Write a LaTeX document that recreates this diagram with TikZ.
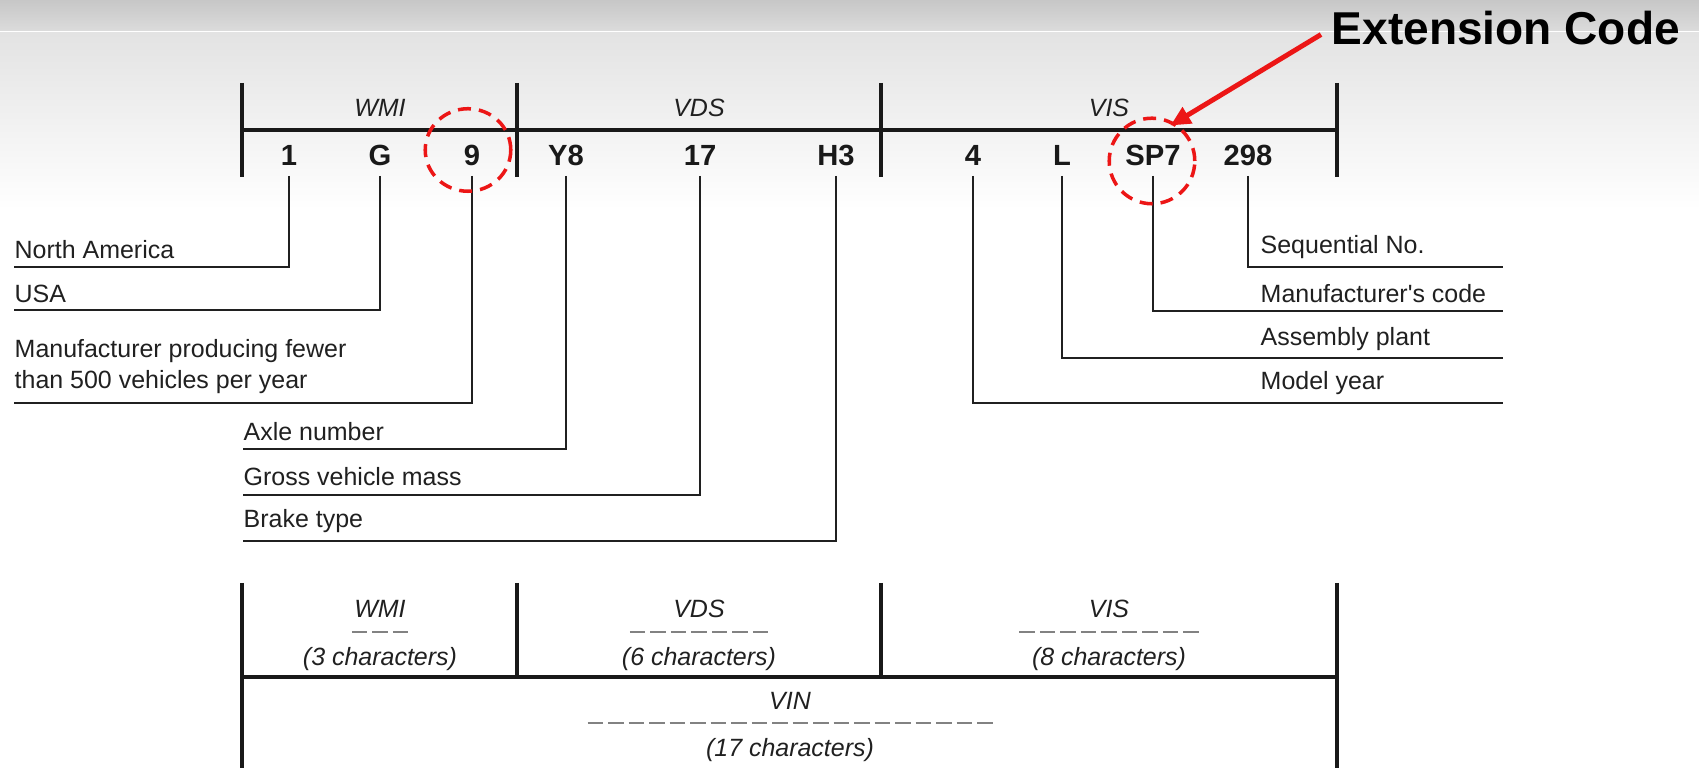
\documentclass[tikz,border=0pt]{standalone}
\usepackage{fontspec}
\setmainfont{Liberation Sans}
\usepackage{tikz}
\usetikzlibrary{arrows.meta,positioning,shapes.geometric}
\definecolor{markred}{RGB}{236,22,22}
\definecolor{inkgray}{RGB}{32,32,32}
\definecolor{dashgray}{RGB}{130,130,130}

\begin{document}
\begin{tikzpicture}[
    x=0.01cm, y=-0.01cm,
    digit/.style={font=\fontsize{8.3pt}{10pt}\selectfont\bfseries, text=black!90, inner sep=0pt, outer ysep=0.1cm, text depth=0pt, anchor=base},
    lbl/.style={font=\fontsize{7.1pt}{8.8pt}\selectfont, text=inkgray, inner sep=0pt, anchor=base west},
    part/.style={font=\fontsize{7.1pt}{8.8pt}\selectfont\itshape, text=inkgray, inner sep=0pt, anchor=base},
    bar/.style={line width=0.95pt, black!90},
    lead/.style={line width=0.65pt, inkgray},
    chardash/.style={line width=0.7pt, dashgray, dash pattern=on 0.155cm off 0.05cm},
    ring/.style={ellipse, draw=markred, line width=1pt, dash pattern=on 0.13cm off 0.08cm, inner sep=0pt},
    callout/.style={-{Triangle[length=0.2cm,width=0.18cm]}, line width=1.4pt, markred},
]
\useasboundingbox (0,0) rectangle (1699,768);
% Background
\shade[top color=black!22, bottom color=black!14] (0,0) rectangle (1699,31);
\fill[white] (0,31) rectangle (1699,33);
\shade[top color=black!11, bottom color=white] (0,33) rectangle (1699,210);

% Upper bar
\draw[bar] (242,130) -- (1337,130);
\foreach \x in {242,517,881,1337}
  \draw[bar] (\x,83) -- (\x,177);
\node[part] (tWMI) at (380,117) {WMI};
\node[part] (tVDS) at (699,117) {VDS};
\node[part] (tVIS) at (1109,117) {VIS};

% Characters
\node[digit] (d1) at (289,166) {1};
\node[digit] (dG) at (380,166) {G};
\node[digit] (d9) at (472,166) {9};
\node[digit] (dY8) at (566,166) {Y8};
\node[digit] (d17) at (700,166) {17};
\node[digit] (dH3) at (836,166) {H3};
\node[digit] (d4) at (973,166) {4};
\node[digit] (dL) at (1062,166) {L};
\node[digit] (dSP7) at (1153,166) {SP7};
\node[digit] (d298) at (1248,166) {298};

% Left labels
\coordinate (naL) at (14,267);
\coordinate (usaL) at (14,310);
\coordinate (mfrL) at (14,403);
\coordinate (axL) at (243,449);
\coordinate (gvmL) at (243,495);
\coordinate (brkL) at (243,541);
\node[lbl] (naT) at (14,259) {North America};
\node[lbl] (usaT) at (14,303) {USA};
\node[lbl, anchor=south west, align=left] (mfrT) at (14,394) {Manufacturer producing fewer\\than 500 vehicles per year};
\node[lbl] (axT) at (243,441) {Axle number};
\node[lbl] (gvmT) at (243,486) {Gross vehicle mass};
\node[lbl] (brkT) at (243,528) {Brake type};

% Right labels
\coordinate (seqR) at (1503,267);
\coordinate (mcR) at (1503,311);
\coordinate (apR) at (1503,358);
\coordinate (myR) at (1503,403);
\node[lbl] (seqT) at (1260,254) {Sequential No.};
\node[lbl] (mcT) at (1260,303) {Manufacturer\textquotesingle s code};
\node[lbl] (apT) at (1260,346) {Assembly plant};
\node[lbl] (myT) at (1260,390) {Model year};

% Leaders
\draw[lead] (d1.south) |- (naL);
\draw[lead] (dG.south) |- (usaL);
\draw[lead] (d9.south) |- (mfrL);
\draw[lead] (dY8.south) |- (axL);
\draw[lead] (d17.south) |- (gvmL);
\draw[lead] (dH3.south) |- (brkL);
\draw[lead] (d298.south) |- (seqR);
\draw[lead] (dSP7.south) |- (mcR);
\draw[lead] (dL.south) |- (apR);
\draw[lead] (d4.south) |- (myR);

% Highlights
\node[ring, minimum width=0.855cm, minimum height=0.825cm] (ring9) at (468,150) {};
\node[ring, minimum width=0.855cm, minimum height=0.855cm] (ringSP) at (1152,161) {};
\node[font=\fontsize{13.1pt}{16pt}\selectfont\bfseries, inner xsep=0.1cm, inner ysep=0pt, anchor=base west] (extc) at (1321,45) {Extension Code};
\draw[callout, shorten >=-1.5pt] ([yshift=-0.06cm]extc.west) -- (ringSP.59);

% Lower bar
\draw[bar] (242,677) -- (1337,677);
\draw[bar] (242,583) -- (242,770);
\draw[bar] (1337,583) -- (1337,770);
\draw[bar] (517,583) -- (517,677);
\draw[bar] (881,583) -- (881,677);
\node[part] (bWMI) at (380,618) {WMI};
\node[part] (bVDS) at (699,618) {VDS};
\node[part] (bVIS) at (1109,618) {VIS};
\node[part] (bWMIn) at (380,666) {(3 characters)};
\node[part] (bVDSn) at (699,666) {(6 characters)};
\node[part] (bVISn) at (1109,666) {(8 characters)};
\node[part] (bVIN) at (790,710) {VIN};
\node[part] (bVINn) at (790,757) {(17 characters)};
\draw[chardash] (351.75,632) -- (408.25,632);
\draw[chardash] (629.75,632) -- (768.25,632);
\draw[chardash] (1019.25,632) -- (1198.75,632);
\draw[chardash] (587.5,723) -- (992.5,723);
\end{tikzpicture}
\end{document}
